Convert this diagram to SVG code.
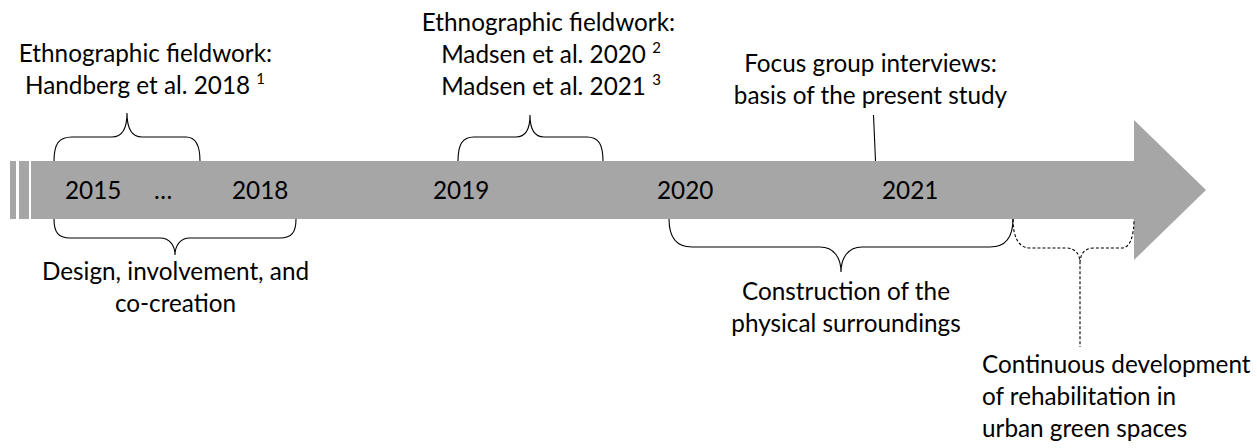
<svg xmlns="http://www.w3.org/2000/svg" width="1257" height="448" viewBox="0 0 1257 448">
  <style>
    text { font-family: Lato, "Open Sans", "Liberation Sans", sans-serif; font-size: 24.3px; fill: #000; }
    .mid { text-anchor: middle; }
    .sup { font-size: 15px; }
    .brace { fill: none; stroke: #000; stroke-width: 1.1; }
    .dashed { stroke-dasharray: 3 2; }
    .bar { fill: #a6a6a6; }
  </style>

  <!-- timeline arrow -->
  <g id="timeline">
    <rect class="bar" x="10" y="161" width="6" height="58"/>
    <rect class="bar" x="19" y="161" width="10" height="58"/>
    <polygon class="bar" points="31,161 1134,161 1134,120 1206,190 1134,260 1134,219 31,219"/>
  </g>

  <!-- year labels on the arrow -->
  <g id="years">
    <text x="65" y="199">2015</text>
    <text x="154" y="199">…</text>
    <text x="232" y="199">2018</text>
    <text x="433" y="199">2019</text>
    <text x="657" y="199">2020</text>
    <text x="882" y="199">2021</text>
  </g>

  <!-- braces and pointers -->
  <g id="connectors">
    <path class="brace" d="M54,161 C54,145 58,137 72,137 L112,137 C122,137 127,128 127,113 C127,128 132,137 142,137 L186,137 C196,137 200,145 200,161"/>
    <path class="brace" d="M54,219 C54,232 58,238 70,238 L160,238 C170,238 175,246 175,255 C175,246 180,238 190,238 L280,238 C292,238 296,232 296,219"/>
    <path class="brace" d="M458,161 C458,145 462,137 474,137 L516,137 C526,137 530,128 530,115 C530,128 534,137 544,137 L587,137 C599,137 603,145 603,161"/>
    <path class="brace" d="M873.5,115 L875.5,161"/>
    <path class="brace" d="M669,219 C669,236 676,247 692,247 L820,247 C834,247 841,258 841,272 C841,258 848,247 862,247 L990,247 C1006,247 1013,236 1013,219"/>
    <path class="brace dashed" d="M1013,219 C1013,236 1018,248 1030,248 L1066,248 C1076,248 1080,255 1080,263 L1080,347 M1080,263 C1080,255 1084,248 1094,248 L1122,248 C1130,248 1134,236 1134,219"/>
  </g>

  <g id="fieldwork-2015">
    <text class="mid" x="145.5" y="62">Ethnographic fieldwork:</text>
    <text class="mid" x="145" y="94">Handberg et al. 2018 <tspan class="sup" dy="-10">1</tspan></text>
  </g>

  <g id="fieldwork-2019">
    <text class="mid" x="548.5" y="31">Ethnographic fieldwork:</text>
    <text class="mid" x="551" y="63">Madsen et al. 2020 <tspan class="sup" dy="-10">2</tspan></text>
    <text class="mid" x="551" y="95">Madsen et al. 2021 <tspan class="sup" dy="-10">3</tspan></text>
  </g>

  <g id="focus-groups">
    <text class="mid" x="870.5" y="72">Focus group interviews:</text>
    <text class="mid" x="870.5" y="104">basis of the present study</text>
  </g>

  <g id="design">
    <text class="mid" x="175.5" y="280">Design, involvement, and</text>
    <text class="mid" x="175.5" y="312">co-creation</text>
  </g>

  <g id="construction">
    <text class="mid" x="846" y="300">Construction of the</text>
    <text class="mid" x="846" y="332">physical surroundings</text>
  </g>

  <g id="continuous">
    <text x="982" y="373">Continuous development</text>
    <text x="982" y="405">of rehabilitation in</text>
    <text x="982" y="437">urban green spaces</text>
  </g>
</svg>
